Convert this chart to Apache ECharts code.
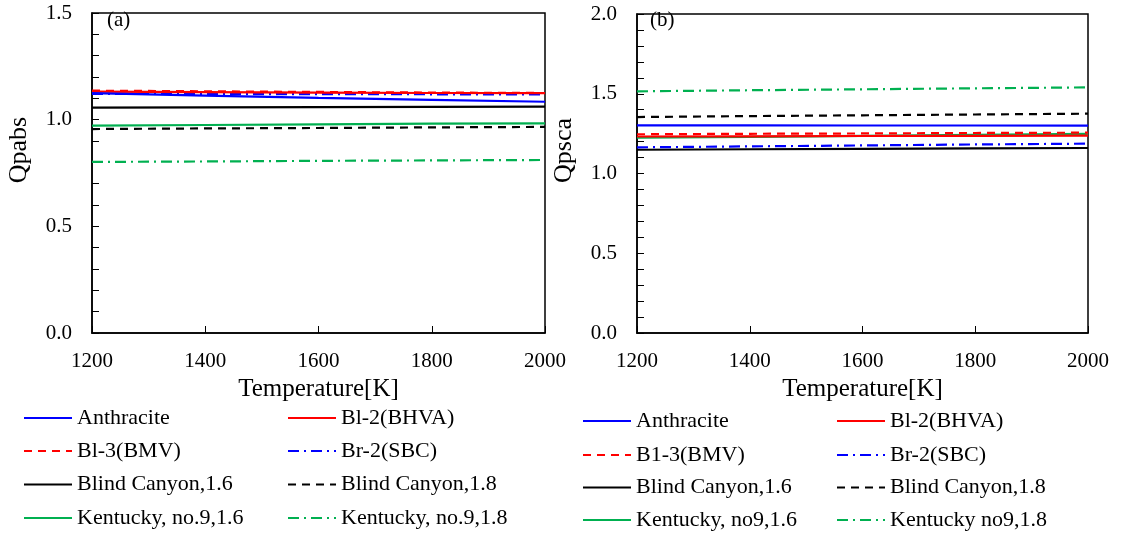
<!DOCTYPE html>
<html>
<head>
<meta charset="utf-8">
<script src="https://cdn.jsdelivr.net/npm/echarts@6/dist/echarts.min.js"></script>
<style>html,body{margin:0;padding:0;background:#fff}#c{width:1134px;height:538px}</style>
</head>
<body>
<div id="c"></div>
<script>
// ---- data ----
const temps = [1200, 1400, 1600, 1800, 2000];

// Panel (a) Qpabs
const aNames = ['Anthracite', 'Bl-2(BHVA)', 'Bl-3(BMV)', 'Br-2(SBC)', 'Blind Canyon,1.6', 'Blind Canyon,1.8', 'Kentucky, no.9,1.6', 'Kentucky, no.9,1.8'];
const aAnthracite = [1.124, 1.113, 1.102, 1.093, 1.084];
const aBl2 = [1.131, 1.129, 1.127, 1.125, 1.124];
const aBl3 = [1.136, 1.133, 1.130, 1.127, 1.125];
const aBr2 = [1.121, 1.120, 1.120, 1.119, 1.118];
const aBlind16 = [1.056, 1.058, 1.059, 1.060, 1.061];
const aBlind18 = [0.956, 0.959, 0.961, 0.964, 0.966];
const aKent16 = [0.972, 0.975, 0.978, 0.981, 0.983];
const aKent18 = [0.802, 0.804, 0.807, 0.809, 0.811];

// Panel (b) Qpsca
const bNames = ['Anthracite', 'Bl-2(BHVA)', 'B1-3(BMV)', 'Br-2(SBC)', 'Blind Canyon,1.6', 'Blind Canyon,1.8', 'Kentucky, no9,1.6', 'Kentucky no9,1.8'];
const bAnthracite = [1.302, 1.302, 1.301, 1.301, 1.300];
const bBl2 = [1.232, 1.233, 1.235, 1.236, 1.237];
const bBl3 = [1.246, 1.249, 1.251, 1.254, 1.256];
const bBr2 = [1.164, 1.170, 1.176, 1.182, 1.187];
const bBlind16 = [1.149, 1.152, 1.155, 1.158, 1.160];
const bBlind18 = [1.354, 1.360, 1.365, 1.370, 1.375];
const bKent16 = [1.224, 1.230, 1.236, 1.242, 1.248];
const bKent18 = [1.515, 1.522, 1.528, 1.534, 1.540];

const aTicks = {min: 0, max: 1.5, interval: 0.5};
const bTicks = {min: 0, max: 2.0, interval: 0.5};
const xTicks = {min: 1200, max: 2000, interval: 200};

// ---- styles ----
const FONT = 'Liberation Serif';
const BLUE = '#0000ff', RED = '#ff0000', GREEN = '#00b050', BLACK = '#000000';
const SOLID = 'solid', DASH = [8, 6], DASHDOT = [11, 5, 2, 5];
const styles = [
  [BLUE, SOLID], [RED, SOLID], [RED, DASH], [BLUE, DASHDOT],
  [BLACK, SOLID], [BLACK, DASH], [GREEN, SOLID], [GREEN, DASHDOT]
];
const aData = [aAnthracite, aBl2, aBl3, aBr2, aBlind16, aBlind18, aKent16, aKent18];
const bData = [bAnthracite, bBl2, bBl3, bBr2, bBlind16, bBlind18, bKent16, bKent18];

function mkSeries(names, data, idx) {
  return names.map((n, i) => ({
    name: n, type: 'line', xAxisIndex: idx, yAxisIndex: idx,
    data: temps.map((t, k) => [t, data[i][k]]),
    symbol: 'none', smooth: false, animation: false,
    lineStyle: {color: styles[i][0], type: styles[i][1], width: 2.2},
    itemStyle: {color: styles[i][0]},
    z: 10 - i
  }));
}

function xAxis(idx) {
  return {
    type: 'value', gridIndex: idx, min: xTicks.min, max: xTicks.max, interval: xTicks.interval,
    name: 'Temperature[K]', nameLocation: 'middle', nameGap: 29,
    nameTextStyle: {fontFamily: FONT, fontSize: 25, color: '#000'},
    axisLine: {lineStyle: {color: '#000', width: 1.5}},
    axisTick: {inside: true, length: 7, lineStyle: {color: '#000', width: 1}},
    axisLabel: {fontFamily: FONT, fontSize: 21, color: '#000', margin: 18, formatter: v => String(v)},
    splitLine: {show: false}
  };
}
function yAxis(idx, ticks, name) {
  return {
    type: 'value', gridIndex: idx, min: ticks.min, max: ticks.max, interval: ticks.interval,
    name: name, nameLocation: 'middle', nameGap: 60,
    nameTextStyle: {fontFamily: FONT, fontSize: 26, color: '#000', padding: [0, 0, 0, 46]},
    axisLine: {lineStyle: {color: '#000', width: 1.5}},
    axisTick: {inside: true, length: 7, lineStyle: {color: '#000', width: 1}},
    minorTick: {show: true, splitNumber: 5, length: 7, lineStyle: {color: '#000', width: 1}},
    axisLabel: {fontFamily: FONT, fontSize: 21, color: '#000', margin: 20, formatter: v => v.toFixed(1)},
    splitLine: {show: false}, minorSplitLine: {show: false}
  };
}
function legendItem(name, left, centerY) {
  return {
    left: left, top: centerY - 11, data: [name],
    itemWidth: 48, itemHeight: 14, selectedMode: false, padding: 0,
    itemStyle: {opacity: 0, color: 'transparent', borderWidth: 0},
    lineStyle: {width: 2},
    textStyle: {fontFamily: FONT, fontSize: 22, color: '#000', lineHeight: 22}
  };
}
const aRows = [418, 451, 484.5, 518];
const bRows = [421, 455, 487.5, 520];
const legends = [];
for (let r = 0; r < 4; r++) {
  legends.push(legendItem(aNames[2 * r], 23, aRows[r]));
  legends.push(legendItem(aNames[2 * r + 1], 287, aRows[r]));
  legends.push(legendItem(bNames[2 * r], 582, bRows[r]));
  legends.push(legendItem(bNames[2 * r + 1], 836, bRows[r]));
}

const chart = echarts.init(document.getElementById('c'), null, {renderer: 'canvas'});
chart.setOption({
  backgroundColor: '#fff',
  animation: false,
  grid: [
    {left: 92, top: 13, width: 453, height: 320, show: true, borderColor: '#000', borderWidth: 1.5, backgroundColor: 'transparent'},
    {left: 637, top: 14, width: 451, height: 319, show: true, borderColor: '#000', borderWidth: 1.5, backgroundColor: 'transparent'}
  ],
  xAxis: [xAxis(0), xAxis(1)],
  yAxis: [yAxis(0, aTicks, 'Qpabs'), yAxis(1, bTicks, 'Qpsca')],
  legend: legends,
  graphic: [
    {type: 'text', left: 107, top: 10, style: {text: '(a)', font: '21px "Liberation Serif"', fill: '#000'}},
    {type: 'text', left: 650, top: 10, style: {text: '(b)', font: '21px "Liberation Serif"', fill: '#000'}}
  ],
  series: mkSeries(aNames, aData, 0).concat(mkSeries(bNames, bData, 1))
});
</script>
</body>
</html>
